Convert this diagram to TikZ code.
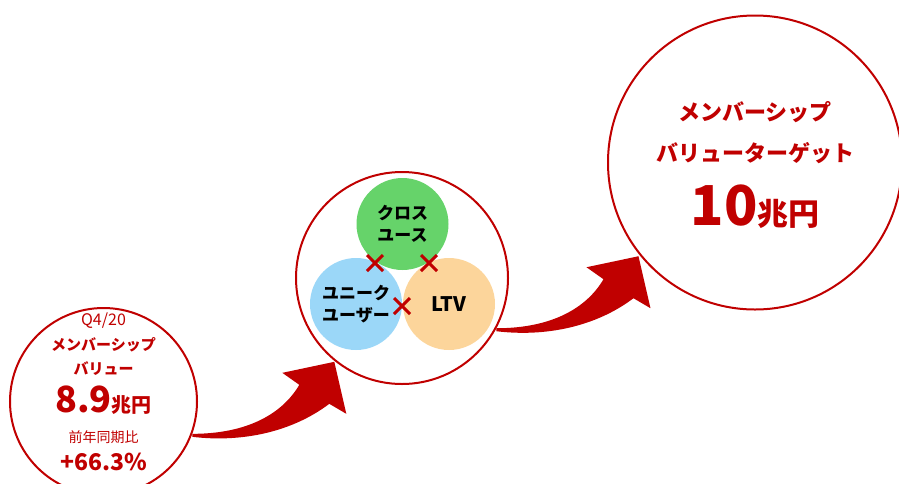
\documentclass[tikz,border=0pt]{standalone}
\usepackage{fontspec}
\setmainfont{Noto Sans CJK JP}
\usetikzlibrary{shapes.misc}

\definecolor{brandred}{HTML}{C00000}
\definecolor{crossgreen}{HTML}{66D36A}
\definecolor{uniqueblue}{HTML}{9BD7F8}
\definecolor{ltvorange}{HTML}{FCD59B}

\newcommand{\fs}[1]{\fontsize{#1}{1.25\dimexpr#1pt\relax}\selectfont}

\tikzset{
  ring/.style={circle, draw=brandred, line width=2pt, inner sep=0pt},
  blob/.style={circle, inner sep=0pt, minimum size=92pt, align=center,
    font=\bfseries\fontsize{17}{22}\selectfont},
  redtext/.style={text=brandred, inner sep=0pt, align=center},
  times/.style={cross out, draw=brandred, line width=3pt, minimum size=13pt, inner sep=0pt},
  growth arrow/.pic={
    \fill[brandred] (0,0) .. controls (55,0) and (90,-20) .. (107,-49)
      -- (90,-61) -- (142,-72) -- (154,-20) -- (137,-30)
      .. controls (100,-2) and (50,9) .. (0,3) -- cycle;
  }
}

\begin{document}
\begin{tikzpicture}[x=1pt, y=-1pt]
  \useasboundingbox (0,0) rectangle (899,483);

  % Three stages
  \node[ring, minimum size=187pt] (now) at (103.5,401.5) {};
  \node[ring, minimum size=212pt] (mid) at (402,278) {};
  \node[ring, minimum size=294pt] (goal) at (755,162.5) {};

  % Current value
  \node[redtext, font=\fs{16}] (q) at (103.5,321) {Q4/20};
  \node[redtext, font=\bfseries\fs{15}] (nowa) at (103.5,345) {メンバーシップ};
  \node[redtext, font=\bfseries\fs{15}] (nowb) at (103.5,369) {バリュー};
  \node[redtext, font=\bfseries] (nowv) at (103.5,400) {\fs{36}8.9\fs{20}兆円};
  \node[redtext, font=\fs{14}] (yoy) at (103.5,437) {前年同期比};
  \node[redtext, font=\bfseries\fs{23}] (yoyv) at (103.5,462) {+66.3\%};

  % Drivers
  \node[blob, fill=crossgreen] (cross) at (402.5,224) {クロス\\ユース};
  \node[blob, fill=uniqueblue] (users) at (356,304) {ユニーク\\ユーザー};
  \node[blob, fill=ltvorange, font=\bfseries\fs{20}] (ltv) at (449,304) {LTV};
  \node[times] (x1) at (375,263) {};
  \node[times] (x2) at (429,263) {};
  \node[times] (x3) at (402,306) {};

  % Target
  \node[redtext, font=\bfseries\fs{22}] (goala) at (755,112) {メンバーシップ};
  \node[redtext, font=\bfseries\fs{22}] (goalb) at (755,153) {バリューターゲット};
  \node[redtext, font=\bfseries] (goalv) at (755,207) {\fs{55}10\fs{31}兆円};

  % Arrows between stages
  \pic at (now.-20) {growth arrow};
  \pic at (mid.-28) {growth arrow};
\end{tikzpicture}
\end{document}
